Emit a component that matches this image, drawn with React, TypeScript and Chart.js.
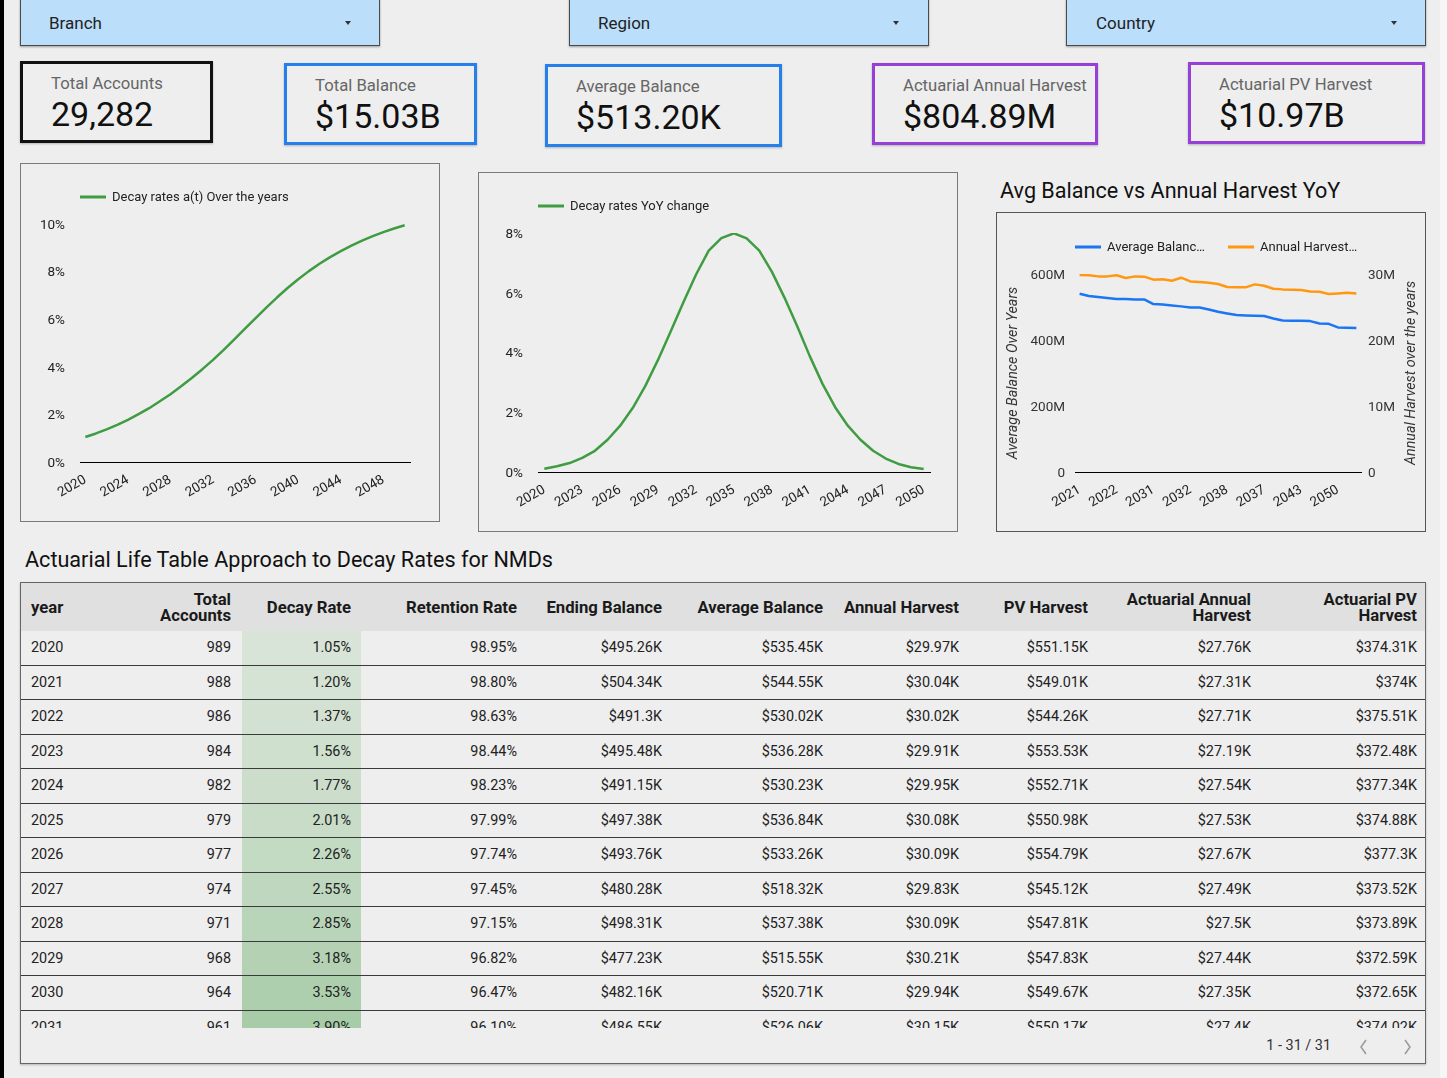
import React, { useEffect, useRef } from 'react';
import { Chart, registerables } from 'chart.js';

Chart.register(...registerables);

const FONT = 'Roboto, "Noto Sans", Arial, sans-serif';
Chart.defaults.font.family = FONT;
Chart.defaults.font.size = 13.5;
Chart.defaults.color = '#222';

// ---- Filters and headline figures ----
const filterLabels = ['Branch', 'Region', 'Country'];
const kpiLabels = ['Total Accounts', 'Total Balance', 'Average Balance', 'Actuarial Annual Harvest', 'Actuarial PV Harvest'];
const kpiValues = ['29,282', '$15.03B', '$513.20K', '$804.89M', '$10.97B'];

// ---- Decay rate curves, 2020-2050 (%) ----
const years = [
  2020, 2021, 2022, 2023, 2024, 2025, 2026, 2027, 2028, 2029, 2030, 2031, 2032, 2033, 2034, 2035,
  2036, 2037, 2038, 2039, 2040, 2041, 2042, 2043, 2044, 2045, 2046, 2047, 2048, 2049, 2050,
];
const decayRates = [
  1.05, 1.2, 1.37, 1.56, 1.77, 2.01, 2.26, 2.55, 2.85, 3.18, 3.53, 3.9, 4.29, 4.71, 5.15, 5.6,
  6.05, 6.49, 6.91, 7.31, 7.68, 8.02, 8.33, 8.61, 8.86, 9.09, 9.3, 9.49, 9.66, 9.81, 9.95,
];
const decayYoY = [
  0.11, 0.19, 0.3, 0.47, 0.71, 1.08, 1.55, 2.15, 2.89, 3.76, 4.71, 5.68, 6.61, 7.41, 7.83, 7.99,
  7.82, 7.41, 6.7, 5.83, 4.88, 3.87, 2.95, 2.17, 1.55, 1.08, 0.71, 0.45, 0.27, 0.16, 0.1,
];

// ---- Average balance vs annual harvest (years ordered by average balance) ----
const balanceYears = [
  2021, 2025, 2028, 2023, 2022, 2020, 2026, 2024, 2031, 2030, 2027, 2029, 2032, 2034, 2033, 2035,
  2038, 2036, 2039, 2040, 2037, 2041, 2042, 2044, 2043, 2045, 2046, 2048, 2050, 2047, 2049,
];
const avgBalanceM = [
  540.2, 533.2, 530.2, 527.2, 524.1, 524.1, 523.0, 523.0, 508.9, 507.9, 504.9, 501.9, 498.7, 498.7, 492.6, 485.6,
  480.5, 475.5, 474.5, 473.5, 472.5, 465.3, 459.2, 458.2, 458.2, 457.2, 450.1, 449.0, 438.0, 437.0, 436.0,
];
const annualHarvestM = [
  29.85, 29.8, 29.64, 29.64, 29.8, 29.4, 29.64, 29.6, 29.14, 29.2, 28.98, 29.44, 28.88, 28.78, 28.68, 28.48,
  28.03, 27.98, 27.98, 28.43, 28.22, 27.77, 27.67, 27.62, 27.57, 27.36, 27.3, 26.96, 27.06, 27.16, 27.06,
];

// ---- Life table rows ----
const tableHeaders = [
  'year', 'Total\nAccounts', 'Decay Rate', 'Retention Rate', 'Ending Balance', 'Average Balance',
  'Annual Harvest', 'PV Harvest', 'Actuarial Annual\nHarvest', 'Actuarial PV\nHarvest',
];
const tableYears = [2020, 2021, 2022, 2023, 2024, 2025, 2026, 2027, 2028, 2029, 2030, 2031];
const totalAccounts = [989, 988, 986, 984, 982, 979, 977, 974, 971, 968, 964, 961];
const retentionRates = [98.95, 98.8, 98.63, 98.44, 98.23, 97.99, 97.74, 97.45, 97.15, 96.82, 96.47, 96.1];
const endingBalanceK = [495.26, 504.34, 491.3, 495.48, 491.15, 497.38, 493.76, 480.28, 498.31, 477.23, 482.16, 486.55];
const averageBalanceK = [535.45, 544.55, 530.02, 536.28, 530.23, 536.84, 533.26, 518.32, 537.38, 515.55, 520.71, 526.06];
const annualHarvestK = [29.97, 30.04, 30.02, 29.91, 29.95, 30.08, 30.09, 29.83, 30.09, 30.21, 29.94, 30.15];
const pvHarvestK = [551.15, 549.01, 544.26, 553.53, 552.71, 550.98, 554.79, 545.12, 547.81, 547.83, 549.67, 550.17];
const actuarialAnnualK = [27.76, 27.31, 27.71, 27.19, 27.54, 27.53, 27.67, 27.49, 27.5, 27.44, 27.35, 27.4];
const actuarialPvK = [374.31, 374, 375.51, 372.48, 377.34, 374.88, 377.3, 373.52, 373.89, 372.59, 372.65, 374.02];
const totalRows = 31;

// ---- helpers ----
const GREEN = '#3f9c42';
const BLUE = '#1a76f2';
const ORANGE = '#ff9810';

const fmtK = (v: number) => '$' + Number(v.toFixed(2)) + 'K';
const fmtPct = (v: number) => v.toFixed(2) + '%';

const minRate = Math.min(...decayRates);
const maxRate = Math.max(...decayRates);
function heat(v: number) {
  const t = (v - minRate) / (maxRate - minRate);
  const a = [216, 228, 215];
  const b = [64, 152, 66];
  return `rgb(${a.map((c, i) => Math.round(c + (b[i] - c) * t)).join(',')})`;
}

// legend drawn above the plot: a short coloured line followed by the series name
function lineLegend(items: { dx: number; text: string }[], dy: number) {
  return {
    id: 'lineLegend',
    afterDraw(chart: any) {
      const { ctx, chartArea } = chart;
      ctx.save();
      ctx.font = `13px ${FONT}`;
      ctx.textBaseline = 'middle';
      ctx.textAlign = 'left';
      const y = chartArea.top + dy;
      items.forEach((it, i) => {
        const ds = chart.data.datasets[i];
        const x = chartArea.left + it.dx;
        ctx.strokeStyle = ds.borderColor;
        ctx.lineWidth = 3;
        ctx.beginPath();
        ctx.moveTo(x, y);
        ctx.lineTo(x + 26, y);
        ctx.stroke();
        ctx.fillStyle = '#222';
        ctx.fillText(it.text, x + 32, y + 1);
      });
      ctx.restore();
    },
  };
}

// rotated axis titles reading bottom-to-top on both sides
function sideTitles(items: { scaleId: string; text: string }[]) {
  return {
    id: 'sideTitles',
    afterDraw(chart: any) {
      const { ctx, chartArea } = chart;
      ctx.save();
      ctx.font = `italic 14.3px ${FONT}`;
      ctx.fillStyle = '#333';
      ctx.textAlign = 'center';
      ctx.textBaseline = 'middle';
      const cy = (chartArea.top + chartArea.bottom) / 2;
      items.forEach((it) => {
        const s = chart.scales[it.scaleId];
        const x = s.position === 'left' ? s.left + 12 : s.right - 12;
        ctx.save();
        ctx.translate(x, cy);
        ctx.rotate(-Math.PI / 2);
        ctx.fillText(it.text, 0, 0);
        ctx.restore();
      });
      ctx.restore();
    },
  };
}

function categoryAxis(labels: string[], every: number) {
  return {
    type: 'category',
    offset: true,
    grid: { display: false, drawTicks: false },
    border: { display: true, color: '#000', width: 1 },
    ticks: {
      autoSkip: false,
      minRotation: 30,
      maxRotation: 30,
      padding: 10,
      color: '#222',
      font: { size: 13.5 },
      callback: (_v: any, i: number) => (i % every === 0 ? labels[i] : ''),
    },
    afterFit: (s: any) => {
      s.height = 50;
    },
  };
}

function valueAxis(opts: any) {
  return {
    min: 0,
    max: opts.max,
    position: opts.position || 'left',
    grid: { display: false, drawTicks: false },
    border: { display: false },
    ticks: {
      stepSize: opts.step,
      padding: opts.padding,
      labelOffset: 1.5,
      color: opts.color || '#222',
      font: { size: 13.5 },
      callback: opts.format,
    },
    afterFit: (s: any) => {
      s.width = opts.width;
    },
  };
}

function lineSet(label: string, data: number[], color: string, axis?: string) {
  return {
    label,
    data,
    borderColor: color,
    backgroundColor: color,
    borderWidth: 2.5,
    pointRadius: 0,
    pointHoverRadius: 0,
    tension: 0,
    fill: false,
    borderJoinStyle: 'round',
    ...(axis ? { yAxisID: axis } : {}),
  };
}

const baseOptions = {
  responsive: false,
  animation: false,
  devicePixelRatio: 1,
  events: [],
};

function makeDecayChart(): any {
  const labels = years.map(String);
  return {
    type: 'line',
    data: { labels, datasets: [lineSet('Decay rates a(t) Over the years', decayRates, GREEN)] },
    options: {
      ...baseOptions,
      layout: { padding: { left: 9, top: 60, right: 29, bottom: 9 } },
      plugins: { legend: { display: false }, tooltip: { enabled: false } },
      scales: {
        x: categoryAxis(labels, 4),
        y: valueAxis({ max: 10, step: 2, padding: 15, width: 50, format: (v: number) => v + '%' }),
      },
    },
    plugins: [lineLegend([{ dx: 0, text: 'Decay rates a(t) Over the years' }], -27)],
  };
}

function makeYoYChart(): any {
  const labels = years.map(String);
  return {
    type: 'line',
    data: { labels, datasets: [lineSet('Decay rates YoY change', decayYoY, GREEN)] },
    options: {
      ...baseOptions,
      layout: { padding: { left: 9, top: 60, right: 27, bottom: 9 } },
      plugins: { legend: { display: false }, tooltip: { enabled: false } },
      scales: {
        x: categoryAxis(labels, 3),
        y: valueAxis({ max: 8, step: 2, padding: 15, width: 50, format: (v: number) => v + '%' }),
      },
    },
    plugins: [lineLegend([{ dx: 0, text: 'Decay rates YoY change' }], -27)],
  };
}

function makeBalanceChart(): any {
  const labels = balanceYears.map(String);
  const fmtM = (v: number) => (v === 0 ? '0' : v + 'M');
  return {
    type: 'line',
    data: {
      labels,
      datasets: [
        lineSet('Average Balance', avgBalanceM, BLUE, 'y'),
        lineSet('Annual Harvest', annualHarvestM, ORANGE, 'y1'),
      ],
    },
    options: {
      ...baseOptions,
      layout: { padding: { left: 4, top: 61, right: 2, bottom: 9 } },
      plugins: { legend: { display: false }, tooltip: { enabled: false } },
      scales: {
        x: categoryAxis(labels, 4),
        y: valueAxis({ max: 600, step: 200, padding: 10, width: 74, color: '#333', format: fmtM }),
        y1: valueAxis({ max: 30, step: 10, padding: 7, width: 62, position: 'right', color: '#333', format: fmtM }),
      },
    },
    plugins: [
      lineLegend(
        [
          { dx: 0, text: 'Average Balanc\u2026' },
          { dx: 153, text: 'Annual Harvest\u2026' },
        ],
        -27
      ),
      sideTitles([
        { scaleId: 'y', text: 'Average Balance Over Years' },
        { scaleId: 'y1', text: 'Annual Harvest over the years' },
      ]),
    ],
  };
}

function ChartCanvas(props: { left: number; top: number; width: number; height: number; make: () => any }) {
  const { left, top, width, height, make } = props;
  const ref = useRef<HTMLCanvasElement | null>(null);
  useEffect(() => {
    if (!ref.current) return;
    const chart = new Chart(ref.current, make());
    return () => chart.destroy();
  }, []);
  return (
    <canvas
      ref={ref}
      width={width}
      height={height}
      style={{ position: 'absolute', left, top, width, height }}
    />
  );
}

// ---- layout ----
const filterBoxes = [
  { left: 20, textX: 29, arrowX: 324 },
  { left: 569, textX: 29, arrowX: 323 },
  { left: 1066, textX: 30, arrowX: 324 },
];
const kpiBoxes = [
  { left: 20, top: 61, w: 193, h: 82, color: '#111' },
  { left: 284, top: 63, w: 193, h: 82, color: '#2680eb' },
  { left: 545, top: 64, w: 237, h: 83, color: '#2680eb' },
  { left: 872, top: 63, w: 226, h: 82, color: '#9640d8' },
  { left: 1188, top: 62, w: 237, h: 82, color: '#9640d8' },
];
const colWidths = [90, 131, 119, 167, 145, 161, 136, 129, 163, 163];
const colPadRight = [0, 11, 10, 11, 11, 11, 11, 11, 11, 8];

function Cell(props: { i: number; children: any; bg?: string; header?: boolean }) {
  const { i, children, bg, header } = props;
  return (
    <div
      style={{
        width: colWidths[i],
        flex: 'none',
        boxSizing: 'border-box',
        paddingLeft: i === 0 ? 10 : 0,
        paddingRight: colPadRight[i],
        textAlign: i === 0 ? 'left' : 'right',
        display: 'flex',
        alignItems: 'center',
        justifyContent: i === 0 ? 'flex-start' : 'flex-end',
        background: bg,
        whiteSpace: header ? 'pre-line' : 'nowrap',
        height: '100%',
      }}
    >
      <span>{children}</span>
    </div>
  );
}

export default function App() {
  useEffect(() => {
    document.body.style.margin = '0';
  }, []);

  return (
    <div
      style={{
        position: 'absolute',
        left: 0,
        top: 0,
        width: 1447,
        height: 1078,
        overflow: 'hidden',
        background: '#eeeeee',
        fontFamily: FONT,
        color: '#222',
      }}
    >
      <div style={{ position: 'absolute', left: 0, top: 0, width: 4, height: 1078, background: '#000' }} />
      <div style={{ position: 'absolute', left: 1440, top: 0, width: 7, height: 1078, background: '#f6f6f6' }} />

      {/* filter controls */}
      {filterLabels.map((label, i) => (
        <div
          key={label}
          style={{
            position: 'absolute',
            left: filterBoxes[i].left,
            top: -1,
            width: 360,
            height: 47,
            boxSizing: 'border-box',
            background: '#bbdefb',
            border: '1px solid #4a4a4a',
            boxShadow: '0 1px 2px rgba(0,0,0,0.35)',
          }}
        >
          <div style={{ position: 'absolute', left: filterBoxes[i].textX - 1, top: 12, fontSize: 17, lineHeight: '22px', color: '#222' }}>
            {label}
          </div>
          <div
            style={{
              position: 'absolute',
              left: filterBoxes[i].arrowX,
              top: 21,
              width: 0,
              height: 0,
              borderLeft: '3.5px solid transparent',
              borderRight: '3.5px solid transparent',
              borderTop: '4px solid #333',
            }}
          />
        </div>
      ))}

      {/* headline figures */}
      {kpiLabels.map((label, i) => {
        const b = kpiBoxes[i];
        return (
          <div
            key={label}
            style={{
              position: 'absolute',
              left: b.left,
              top: b.top,
              width: b.w,
              height: b.h,
              boxSizing: 'border-box',
              border: `3px solid ${b.color}`,
              boxShadow: '0 1px 2px rgba(0,0,0,0.25)',
            }}
          >
            <div style={{ position: 'absolute', left: 28, top: 10, fontSize: 16.7, lineHeight: '20px', color: '#666', whiteSpace: 'nowrap' }}>
              {label}
            </div>
            <div style={{ position: 'absolute', left: 28, top: 30, fontSize: 34, lineHeight: '40px', color: '#111', whiteSpace: 'nowrap' }}>
              {kpiValues[i]}
            </div>
          </div>
        );
      })}

      {/* decay rate chart */}
      <div style={{ position: 'absolute', left: 20, top: 163, width: 420, height: 359, boxSizing: 'border-box', border: '1px solid #7a7a7a' }} />
      <ChartCanvas left={21} top={164} width={418} height={357} make={makeDecayChart} />

      {/* year-on-year change chart */}
      <div style={{ position: 'absolute', left: 478, top: 172, width: 480, height: 360, boxSizing: 'border-box', border: '1px solid #7a7a7a' }} />
      <ChartCanvas left={479} top={173} width={478} height={358} make={makeYoYChart} />

      {/* balance vs harvest chart */}
      <div style={{ position: 'absolute', left: 1000, top: 177, fontSize: 21.6, lineHeight: '28px', color: '#111', whiteSpace: 'nowrap' }}>
        Avg Balance vs Annual Harvest YoY
      </div>
      <div style={{ position: 'absolute', left: 996, top: 212, width: 430, height: 320, boxSizing: 'border-box', border: '1px solid #555' }} />
      <ChartCanvas left={997} top={213} width={428} height={318} make={makeBalanceChart} />

      {/* life table */}
      <div style={{ position: 'absolute', left: 25, top: 546, fontSize: 21.6, lineHeight: '28px', color: '#111', whiteSpace: 'nowrap' }}>
        Actuarial Life Table Approach to Decay Rates for NMDs
      </div>
      <div
        style={{
          position: 'absolute',
          left: 20,
          top: 582,
          width: 1406,
          height: 482,
          boxSizing: 'border-box',
          border: '1px solid #666',
          boxShadow: '0 1px 2px rgba(0,0,0,0.25)',
        }}
      >
        <div
          style={{
            display: 'flex',
            height: 48,
            boxSizing: 'border-box',
            paddingTop: 2,
            background: '#e0e0e0',
            fontSize: 16.7,
            lineHeight: '16px',
            fontWeight: 700,
            color: '#1a1a1a',
          }}
        >
          {tableHeaders.map((h, i) => (
            <Cell key={h} i={i} header>
              {h}
            </Cell>
          ))}
        </div>
        <div style={{ height: 397, overflow: 'hidden', fontSize: 14.4, color: '#222' }}>
          {tableYears.map((y, r) => {
            const cells = [
              String(y),
              String(totalAccounts[r]),
              fmtPct(decayRates[r]),
              fmtPct(retentionRates[r]),
              fmtK(endingBalanceK[r]),
              fmtK(averageBalanceK[r]),
              fmtK(annualHarvestK[r]),
              fmtK(pvHarvestK[r]),
              fmtK(actuarialAnnualK[r]),
              fmtK(actuarialPvK[r]),
            ];
            return (
              <div
                key={y}
                style={{
                  display: 'flex',
                  height: 34.5,
                  boxSizing: 'border-box',
                  borderBottom: '1px solid #3a3a3a',
                }}
              >
                {cells.map((c, i) => (
                  <Cell key={i} i={i} bg={i === 2 ? heat(decayRates[r]) : undefined}>
                    {c}
                  </Cell>
                ))}
              </div>
            );
          })}
        </div>
        <div style={{ position: 'absolute', right: 94, top: 454, fontSize: 14.4, lineHeight: '18px', color: '#333' }}>
          {`1 - ${totalRows} / ${totalRows}`}
        </div>
        <svg style={{ position: 'absolute', left: 1338, top: 456 }} width={10} height={16}>
          <polyline points="7,1 2,8 7,15" fill="none" stroke="#999" strokeWidth={1.5} />
        </svg>
        <svg style={{ position: 'absolute', left: 1381, top: 456 }} width={10} height={16}>
          <polyline points="3,1 8,8 3,15" fill="none" stroke="#999" strokeWidth={1.5} />
        </svg>
      </div>
    </div>
  );
}
